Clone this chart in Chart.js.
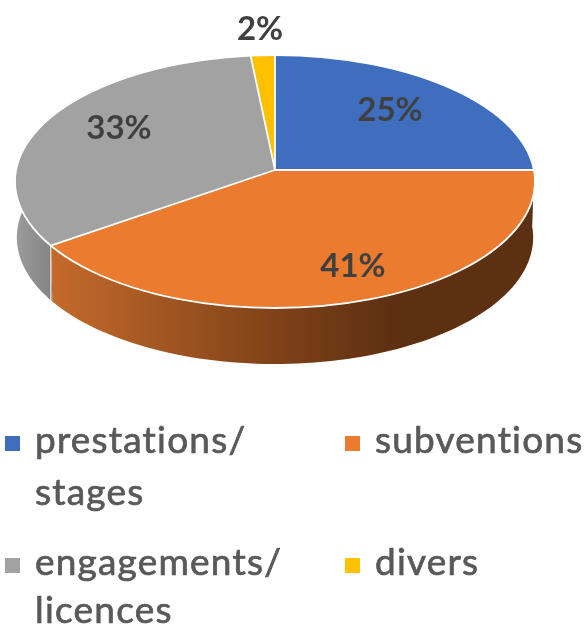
<!DOCTYPE html>
<html><head><meta charset="utf-8">
<style>html,body{margin:0;padding:0;background:#fff}canvas{display:block;filter:blur(0.5px)}</style>
<script src="https://cdn.jsdelivr.net/npm/chart.js@4/dist/chart.umd.min.js"></script>
</head><body><canvas id="c" width="586" height="627"></canvas>
<script>
const categories = ['prestations/ stages','subventions','engagements/ licences','divers'];
const values = [25, 41, 32.5, 1.5];
const colours = ['#3F6EBE','#EA7B2F','#A2A2A2','#FFC000'];
const percentLabels = ['25%','41%','33%','2%'];
const legendLines = [['prestations/','stages'],['subventions'],['engagements/','licences'],['divers']];

const view = {ax:275, ay:170, cy:181.5, rx:260, ry:126.5, up:115, down:138, depth:56, over:1.1};
const labelPos = [[390,110],[353,266],[119,128],[260,29]];
const legendPos = [[5,436,35,[453,505]],[345,436,375,[453]],[5,558,35,[575,623]],[345,558,375,[575]]];

function rim(a){
  const dx=Math.cos(a)*view.rx, dy=Math.sin(a)*(Math.sin(a)>0?view.down:view.up);
  const oy=view.ay-view.cy;
  const A=dx*dx/(view.rx*view.rx)+dy*dy/(view.ry*view.ry);
  const B=2*(oy*dy/(view.ry*view.ry));
  const C=oy*oy/(view.ry*view.ry)-1;
  const t=(-B+Math.sqrt(B*B-4*A*C))/(2*A);
  return [view.ax+t*dx, view.ay+t*dy];
}
function wallPath(ctx,a0,a1){
  const n=80; ctx.beginPath();
  for(let i=0;i<=n;i++){const p=rim(a0+(a1-a0)*i/n); i?ctx.lineTo(p[0],p[1]):ctx.moveTo(p[0],p[1]);}
  for(let i=n;i>=0;i--){const p=rim(a0+(a1-a0)*i/n); ctx.lineTo(view.ax+(p[0]-view.ax)*0.993,p[1]+view.depth);}
  ctx.closePath();
}
function wallFill(ctx,i){
  if(i===1){
    const g=ctx.createLinearGradient(50,0,535,0);
    g.addColorStop(0,'#C56A2B');g.addColorStop(0.5,'#7A3F17');g.addColorStop(0.7,'#5E3012');g.addColorStop(1,'#5E3012');
    return g;
  }
  if(i===2){
    const g=ctx.createLinearGradient(15,0,50,0);
    g.addColorStop(0,'#9C9C9C');g.addColorStop(1,'#858585');
    return g;
  }
  return colours[i];
}
const pie3d = {
  id:'pie3d',
  beforeDatasetsDraw(chart){
    const ctx=chart.ctx, meta=chart.getDatasetMeta(0), arcs=meta.data;
    const e0=arcs[0], s=view.over*view.rx/e0.outerRadius;
    [0,3,2,1].forEach(i=>{
      wallPath(ctx,arcs[i].startAngle,arcs[i].endAngle);
      ctx.fillStyle=wallFill(ctx,i);ctx.fill();
    });
    const seam=rim(arcs[2].startAngle);
    ctx.strokeStyle='#E8E8E8';ctx.lineWidth=1.2;
    ctx.beginPath();ctx.moveTo(seam[0],seam[1]);ctx.lineTo(seam[0],seam[1]+view.depth);ctx.stroke();
    [[view.up,0,view.ay],[view.down,view.ay,627]].forEach(([ry,y0,y1])=>{
      ctx.save();
      ctx.beginPath();ctx.rect(0,y0,586,y1-y0);ctx.clip();
      ctx.beginPath();ctx.ellipse(view.ax,view.cy,view.rx,view.ry,0,0,Math.PI*2);ctx.clip();
      ctx.translate(view.ax,view.ay);
      ctx.scale(s,s*ry/view.rx);
      ctx.translate(-e0.x,-e0.y);
      meta.controller.draw();
      ctx.restore();
    });
    ctx.strokeStyle='#FFFFFF';ctx.lineWidth=1.8;
    ctx.beginPath();ctx.ellipse(view.ax,view.cy,view.rx,view.ry,0,0,Math.PI*2);ctx.stroke();
    arcs.forEach(a=>{
      const p=rim(a.startAngle);
      ctx.beginPath();ctx.moveTo(view.ax,view.ay);ctx.lineTo(p[0],p[1]);ctx.stroke();
    });
    return false;
  },
  afterDraw(chart){
    const ctx=chart.ctx;
    ctx.save();
    ctx.textBaseline='middle';ctx.textAlign='center';
    ctx.fillStyle='#404040';ctx.font='bold 33px Lato, sans-serif';
    percentLabels.forEach((t,i)=>ctx.fillText(t,labelPos[i][0],labelPos[i][1]));
    ctx.textAlign='left';ctx.textBaseline='alphabetic';
    ctx.font='37px Lato, sans-serif';
    ctx.letterSpacing='1.2px';
    ctx.strokeStyle='#595959';ctx.lineWidth=0.7;
    legendLines.forEach((lines,i)=>{
      const [mx,my,tx,ys]=legendPos[i];
      ctx.fillStyle=colours[i];ctx.fillRect(mx,my,15,15);
      ctx.fillStyle='#595959';
      lines.forEach((t,j)=>{ctx.fillText(t,tx,ys[j]);ctx.strokeText(t,tx,ys[j]);});
    });
    ctx.restore();
  }
};
new Chart(document.getElementById('c'),{
  type:'pie',
  data:{labels:categories,datasets:[{data:values,backgroundColor:colours,borderWidth:0}]},
  options:{responsive:false,animation:false,layout:{padding:0},
    plugins:{legend:{display:false},tooltip:{enabled:false}}},
  plugins:[pie3d]
});
</script></body></html>
